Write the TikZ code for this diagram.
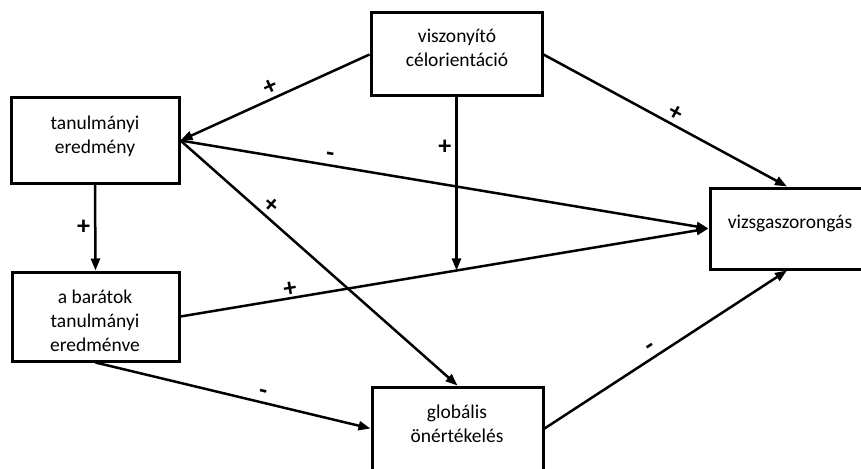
\documentclass[tikz,border=0pt]{standalone}
\usepackage{fontspec}
\setmainfont{Carlito}
\usetikzlibrary{arrows.meta,calc}
\tikzset{
  box/.style={draw, line width=3pt, inner sep=0pt},
  txt/.style={align=center, inner sep=0pt, font=\fontsize{19.5}{24}\selectfont},
  arr/.style={line width=2.5pt, -{Triangle[length=12pt,width=9pt]}},
  sgn/.style={font=\fontsize{26}{28}\selectfont\bfseries, sloped, above, inner sep=3pt},
  sgnup/.style={font=\fontsize{26}{28}\selectfont\bfseries, inner sep=4pt}
}
\begin{document}
\begin{tikzpicture}[x=1pt,y=-1pt]
\useasboundingbox (0,0) rectangle (861,468);
\clip (0,0) rectangle (861,468);
% boxes
\node[box, minimum width=171pt, minimum height=83pt] (v) at (456.5,54.5) {};
\node[box, minimum width=168pt, minimum height=85pt] (t) at (95,140.5) {};
\node[box, minimum width=167pt, minimum height=89pt] (b) at (95.5,316.5) {};
\node[box, minimum width=171pt, minimum height=83pt] (g) at (457.5,428.5) {};
\node[box, minimum width=154pt, minimum height=81pt] (vz) at (787,228.5) {};
% texts
\node[txt] (vtx) at (457,47.5) {viszonyító\\célorientáció};
\node[txt] (ttx) at (95,136.5) {tanulmányi\\eredmény};
\node[txt] (btx) at (95,321) {a barátok\\tanulmányi\\eredménve};
\node[txt] (gtx) at (457,423.5) {globális\\önértékelés};
\node[txt] (vztx) at (790,223) {vizsgaszorongás};
% helper point on barátok -> vizsga line
\path (b.east) -- (vz.west) coordinate[pos=0.523] (m);
% connectors
\draw[arr] (v.west) -- node[sgn, pos=0.5] {+} (t.east);
\draw[arr] (t.east) -- node[sgn, pos=0.28] {-} (vz.west);
\draw[arr] (t.east) -- node[sgn, pos=0.30] {+} (g.north);
\draw[arr] (t.south) -- node[sgnup, left, pos=0.5] {+} (b.north);
\draw[arr] (v.south) -- node[sgnup, left, pos=0.29] {+} (v.south |- m);
\draw[arr] (v.east) -- node[sgn, pos=0.52] {+} (vz.north);
\draw[arr] (b.east) -- node[sgn, pos=0.21, inner sep=0pt] {+} (vz.west);
\draw[arr] (b.south) -- node[sgn, pos=0.6] {-} (g.west);
\draw[arr] (g.east) -- node[sgn, pos=0.46] {-} (vz.south);
\end{tikzpicture}
\end{document}
